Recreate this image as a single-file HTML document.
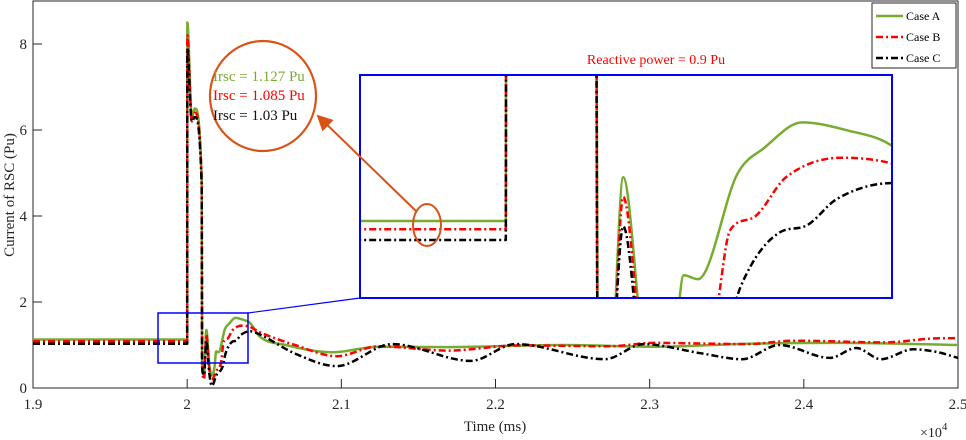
<!DOCTYPE html>
<html><head><meta charset="utf-8"><style>
body{margin:0;background:#fff;}
svg{display:block;font-family:"Liberation Serif",serif;}
</style></head><body>
<svg id="chart" width="966" height="440" viewBox="0 0 966 440">
<defs>
<clipPath id="plotClip"><rect x="33" y="1" width="925" height="387"/></clipPath>
<clipPath id="insetClip"><rect x="361" y="76" width="530" height="221"/></clipPath>
<marker id="arrow" markerWidth="8" markerHeight="8" refX="7" refY="4" orient="auto"><path d="M0,0 L8,4 L0,8 z" fill="#d95319"/></marker>
</defs>
<rect x="33" y="1" width="925" height="387" fill="#fff" stroke="#262626" stroke-width="1"/>
<g id="xticks"></g>
<g id="yticks"></g>
<text x="495" y="431" font-size="15" text-anchor="middle" fill="#262626">Time (ms)</text>
<text x="920" y="437" font-size="14" fill="#262626">×10<tspan dy="-7" font-size="11">4</tspan></text>
<text transform="translate(14,195) rotate(-90)" font-size="15" text-anchor="middle" fill="#262626">Current of RSC (Pu)</text>
<g id="mainSeries" clip-path="url(#plotClip)"></g>
<rect x="158" y="313" width="90" height="50" fill="none" stroke="#0000ff" stroke-width="1.5"/>
<line x1="248" y1="313" x2="360" y2="298" stroke="#0000ff" stroke-width="1.2"/>
<rect x="360" y="75" width="532" height="223" fill="#fff" stroke="#0000ff" stroke-width="2"/>
<g id="insetSeries" clip-path="url(#insetClip)"></g>
<text x="656" y="64" font-size="14" text-anchor="middle" fill="#ff0000">Reactive power = 0.9 Pu</text>
<ellipse cx="427" cy="225" rx="14" ry="21" fill="none" stroke="#d95319" stroke-width="2"/>
<line x1="416" y1="211" x2="318" y2="116" stroke="#d95319" stroke-width="2" marker-end="url(#arrow)"/>
<ellipse cx="263" cy="96" rx="53" ry="55" fill="#fff" stroke="#d95319" stroke-width="2.2"/>
<text x="213" y="81" font-size="15" fill="#77ac30">Irsc = 1.127 Pu</text>
<text x="213" y="100" font-size="15" fill="#ff0000">Irsc = 1.085 Pu</text>
<text x="213" y="120" font-size="15" fill="#111">Irsc = 1.03 Pu</text>
<g>
<rect x="872" y="3" width="84" height="65" fill="#fff" stroke="#262626" stroke-width="1"/>
<line x1="876" y1="16" x2="903" y2="16" stroke="#77ac30" stroke-width="2.5"/>
<text x="906" y="20" font-size="12">Case A</text>
<line x1="876" y1="37" x2="903" y2="37" stroke="#ff0000" stroke-width="2.5" stroke-dasharray="7,3,2,3"/>
<text x="906" y="41" font-size="12">Case B</text>
<line x1="876" y1="58" x2="903" y2="58" stroke="#000" stroke-width="2.5" stroke-dasharray="7,3,2,3"/>
<text x="906" y="62" font-size="12">Case C</text>
</g>
</svg>
<script>
const xTickLabels = ["1.9","2","2.1","2.2","2.3","2.4","2.5"];
const xTickValues = [1.9,2.0,2.1,2.2,2.3,2.4,2.5];
const yTickValues = [0,2,4,6,8];
const timeA = [1.9,2.0,2.0001,2.003,2.005,2.0094,2.0097,2.011,2.0124,2.0145,2.016,2.0178,2.0188,2.0203,2.0245,2.0273,2.0313,2.036,2.0408,2.047,2.064,2.094,2.124,2.169,2.244,2.303,2.364,2.423,2.5];
const caseA = [1.127,1.127,8.5,6.3,6.5,4.84,0.6,0.3,1.35,0.5,0.3,0.5,0.85,0.83,1.37,1.5,1.63,1.59,1.51,1.2,1.0,0.83,0.96,0.95,1.0,0.96,1.03,1.05,1.0];
const timeB = [1.9,2.0,2.0001,2.003,2.005,2.0094,2.0097,2.011,2.0124,2.0145,2.016,2.019,2.022,2.0237,2.026,2.0296,2.0355,2.0408,2.047,2.07,2.097,2.124,2.169,2.215,2.273,2.303,2.364,2.393,2.453,2.483,2.5];
const caseB = [1.085,1.085,8.2,6.2,6.4,4.8,0.5,0.2,1.25,0.4,0.2,0.4,0.6,1.08,1.14,1.35,1.45,1.42,1.3,1.0,0.74,0.97,0.87,0.99,0.97,1.05,1.02,1.1,1.06,1.15,1.16];
const timeC = [1.9,2.0,2.0001,2.003,2.005,2.0094,2.0097,2.011,2.0124,2.0145,2.016,2.019,2.023,2.0248,2.029,2.0316,2.035,2.0408,2.045,2.07,2.097,2.133,2.184,2.213,2.271,2.296,2.333,2.36,2.384,2.417,2.434,2.45,2.471,2.486,2.5];
const caseC = [1.03,1.03,7.9,6.2,6.3,4.7,0.5,0.3,1.1,0.3,0.05,0.3,0.5,0.79,1.07,1.1,1.24,1.32,1.28,0.8,0.51,1.02,0.63,1.02,0.67,1.02,0.81,0.67,1.0,0.70,0.93,0.67,0.9,0.84,0.7];

const NS = "http://www.w3.org/2000/svg";
const X = t => 33 + (t - 1.9) / 0.6 * 925;
const Y = v => 388 - v * 43;
const IX = t => 360 + (t - 1.9846) / (2.0408 - 1.9846) * 532;
const IY = v => 298 - (v - 0.734) * 196;

const xg = document.getElementById('xticks');
xTickValues.forEach((t, i) => {
  const l = document.createElementNS(NS, 'line');
  l.setAttribute('x1', X(t)); l.setAttribute('x2', X(t));
  l.setAttribute('y1', 388); l.setAttribute('y2', 379);
  l.setAttribute('stroke', '#262626');
  
  
  xg.appendChild(l);
  const tx = document.createElementNS(NS, 'text');
  tx.setAttribute('x', X(t)); tx.setAttribute('y', 409);
  tx.setAttribute('font-size', '15'); tx.setAttribute('text-anchor', 'middle'); tx.setAttribute('fill', '#262626');
  tx.textContent = xTickLabels[i];
  
  
  xg.appendChild(tx);
});
const yg = document.getElementById('yticks');
yTickValues.forEach(v => {
  const l = document.createElementNS(NS, 'line');
  l.setAttribute('x1', 33); l.setAttribute('x2', 42);
  l.setAttribute('y1', Y(v)); l.setAttribute('y2', Y(v));
  l.setAttribute('stroke', '#262626');
  
  
  yg.appendChild(l);
  const tx = document.createElementNS(NS, 'text');
  tx.setAttribute('x', 27); tx.setAttribute('y', Y(v) + 5);
  tx.setAttribute('font-size', '15'); tx.setAttribute('text-anchor', 'end'); tx.setAttribute('fill', '#262626');
  tx.textContent = v;
  
  
  yg.appendChild(tx);
});

const series = [
  {t: timeA, v: caseA, color: '#77ac30', dash: null, name: 'case-a'},
  {t: timeB, v: caseB, color: '#ff0000', dash: '7,3,2,3', name: 'case-b'},
  {t: timeC, v: caseC, color: '#000000', dash: '7,3,2,3', name: 'case-c'}
];
// monotone cubic (Fritsch-Carlson) path in screen space
function monoPath(xs, ys) {
  const n = xs.length, d = [], m = new Array(n);
  for (let i = 0; i < n - 1; i++) d.push((ys[i+1]-ys[i]) / Math.max(xs[i+1]-xs[i], 1e-6));
  m[0] = d[0]; m[n-1] = d[n-2];
  for (let i = 1; i < n - 1; i++) m[i] = (d[i-1]*d[i] <= 0) ? 0 : (d[i-1]+d[i]) / 2;
  for (let i = 0; i < n - 1; i++) {
    if (d[i] === 0) { m[i] = 0; m[i+1] = 0; continue; }
    const a = m[i]/d[i], b = m[i+1]/d[i], s = a*a + b*b;
    if (s > 9) { const t = 3/Math.sqrt(s); m[i] = t*a*d[i]; m[i+1] = t*b*d[i]; }
  }
  let p = 'M' + xs[0].toFixed(1) + ',' + ys[0].toFixed(1);
  for (let i = 0; i < n - 1; i++) {
    const h = xs[i+1]-xs[i];
    if (h < 0.8) { p += ' L' + xs[i+1].toFixed(1) + ',' + ys[i+1].toFixed(1); continue; }
    p += ' C' + (xs[i]+h/3).toFixed(1) + ',' + (ys[i]+m[i]*h/3).toFixed(1) + ' ' +
         (xs[i+1]-h/3).toFixed(1) + ',' + (ys[i+1]-m[i+1]*h/3).toFixed(1) + ' ' +
         xs[i+1].toFixed(1) + ',' + ys[i+1].toFixed(1);
  }
  return p;
}
function draw(g, fx, fy, s, w, label) {
  const p = document.createElementNS(NS, 'path');
  p.setAttribute('d', monoPath(s.t.map(fx), s.v.map(fy)));
  p.setAttribute('fill', 'none');
  p.setAttribute('stroke', s.color);
  p.setAttribute('stroke-width', w);
  p.setAttribute('stroke-linejoin', 'round');
  if (s.dash) p.setAttribute('stroke-dasharray', s.dash);
  
  
  g.appendChild(p);
}
const mg = document.getElementById('mainSeries');
const ig = document.getElementById('insetSeries');
series.forEach(s => draw(mg, X, Y, s, 2.5, 'line-' + s.name));
series.forEach(s => draw(ig, IX, IY, s, 2.5, 'inset-line-' + s.name));
</script>
</body></html>
